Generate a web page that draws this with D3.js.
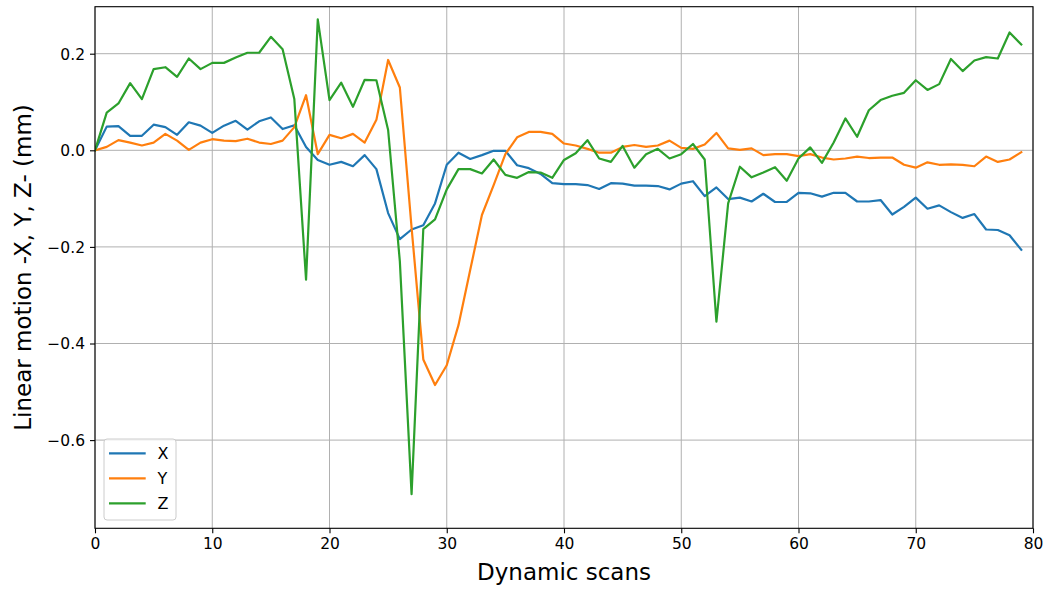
<!DOCTYPE html>
<html>
<head>
<meta charset="utf-8">
<script src="https://cdn.jsdelivr.net/npm/d3@7"></script>
<style>
  html, body { margin: 0; padding: 0; background: #fff; }
  svg { display: block; }
  text { font-family: "DejaVu Sans", sans-serif; fill: #000; }
</style>
</head>
<body>
<svg id="chart" width="1048" height="591"></svg>
<script>
const scans = d3.range(0, 80);

const seriesX = [0, 0.049, 0.050, 0.030, 0.030, 0.053, 0.048, 0.032, 0.058, 0.051,
  0.036, 0.051, 0.061, 0.043, 0.060, 0.068, 0.044, 0.052, 0.007, -0.020,
  -0.030, -0.024, -0.033, -0.010, -0.039, -0.130, -0.184, -0.164, -0.155, -0.110,
  -0.030, -0.005, -0.018, -0.010, -0.001, -0.001, -0.031, -0.037, -0.049, -0.068,
  -0.070, -0.070, -0.072, -0.080, -0.068, -0.069, -0.073, -0.073, -0.074, -0.081,
  -0.069, -0.064, -0.095, -0.077, -0.101, -0.098, -0.106, -0.090, -0.107, -0.107,
  -0.088, -0.089, -0.096, -0.088, -0.088, -0.106, -0.106, -0.103, -0.133, -0.117,
  -0.098, -0.121, -0.114, -0.128, -0.140, -0.132, -0.164, -0.165, -0.176, -0.206];

const seriesY = [0, 0.007, 0.021, 0.016, 0.010, 0.016, 0.034, 0.020, 0.001, 0.016,
  0.023, 0.020, 0.019, 0.024, 0.016, 0.013, 0.020, 0.048, 0.114, -0.008,
  0.032, 0.025, 0.034, 0.016, 0.063, 0.187, 0.130, -0.160, -0.433, -0.486,
  -0.445, -0.362, -0.248, -0.134, -0.072, -0.008, 0.027, 0.038, 0.038, 0.034,
  0.014, 0.010, 0.003, -0.005, -0.005, 0.007, 0.011, 0.007, 0.010, 0.020,
  0.005, 0.003, 0.012, 0.036, 0.004, 0.001, 0.004, -0.010, -0.008, -0.008,
  -0.012, -0.008, -0.015, -0.019, -0.017, -0.013, -0.016, -0.015, -0.015, -0.030,
  -0.036, -0.025, -0.030, -0.029, -0.030, -0.033, -0.013, -0.024, -0.019, -0.004];

const seriesZ = [0, 0.078, 0.097, 0.139, 0.106, 0.168, 0.172, 0.152, 0.190, 0.168,
  0.181, 0.181, 0.192, 0.202, 0.202, 0.235, 0.209, 0.106, -0.268, 0.271,
  0.104, 0.140, 0.090, 0.146, 0.145, 0.042, -0.230, -0.712, -0.163, -0.143,
  -0.081, -0.039, -0.039, -0.048, -0.019, -0.051, -0.057, -0.045, -0.046, -0.057,
  -0.020, -0.006, 0.021, -0.017, -0.024, 0.009, -0.036, -0.008, 0.003, -0.017,
  -0.008, 0.013, -0.019, -0.355, -0.110, -0.034, -0.056, -0.046, -0.035, -0.063,
  -0.017, 0.006, -0.026, 0.016, 0.066, 0.028, 0.083, 0.104, 0.113, 0.119,
  0.145, 0.125, 0.137, 0.189, 0.164, 0.186, 0.193, 0.190, 0.244, 0.219];

const seriesNames = ["X", "Y", "Z"];
const seriesColors = ["#1f77b4", "#ff7f0e", "#2ca02c"];
const xTicks = [0, 10, 20, 30, 40, 50, 60, 70, 80];
const yTicks = [0.2, 0.0, -0.2, -0.4, -0.6];
const xLabel = "Dynamic scans";
const yLabel = "Linear motion -X, Y, Z- (mm)";

(function () {
const pL = 95, pR = 1033, pT = 6.7, pB = 528.3;
const svg = d3.select("#chart");

const x = d3.scaleLinear().domain([0, 80]).range([pL, pR]);
const y = d3.scaleLinear().domain([-0.7826, 0.2973]).range([pB, pT]);

// grid
const grid = svg.append("g");
grid.selectAll("line.gx").data(xTicks).join("line").attr("class", "gx")
  .attr("x1", d => x(d)).attr("x2", d => x(d))
  .attr("y1", pT).attr("y2", pB)
  .attr("stroke", "#b0b0b0").attr("stroke-width", 1);
grid.selectAll("line.gy").data(yTicks).join("line").attr("class", "gy")
  .attr("x1", pL).attr("x2", pR)
  .attr("y1", d => y(d)).attr("y2", d => y(d))
  .attr("stroke", "#b0b0b0").attr("stroke-width", 1);

// lines
const allSeries = [seriesX, seriesY, seriesZ];
svg.append("clipPath").attr("id", "clip").append("rect")
  .attr("x", pL).attr("y", pT).attr("width", pR - pL).attr("height", pB - pT);
const line = d3.line().x((d, i) => x(scans[i])).y(d => y(d));
svg.append("g").attr("clip-path", "url(#clip)")
  .selectAll("path").data(allSeries).join("path")
  .attr("d", d => line(d))
  .attr("fill", "none")
  .attr("stroke", (d, i) => seriesColors[i])
  .attr("stroke-width", 2.2)
  .attr("stroke-linejoin", "round")
  .attr("stroke-linecap", "square");

// axes
const fmtY = d3.format(".1f");
const xAxis = d3.axisBottom(x).tickValues(xTicks).tickSize(5).tickPadding(5).tickFormat(d3.format("d"));
const yAxis = d3.axisLeft(y).tickValues(yTicks).tickSize(5).tickPadding(5).tickFormat(fmtY);

const gx = svg.append("g").attr("transform", `translate(0,${pB})`).call(xAxis);
const gy = svg.append("g").attr("transform", `translate(${pL},0)`).call(yAxis);
[gx, gy].forEach(g => {
  g.select(".domain").remove();
  g.selectAll(".tick line").attr("stroke", "#000").attr("stroke-width", 1.1);
  g.selectAll(".tick text").attr("font-size", "15.5px").attr("font-family", "DejaVu Sans").attr("fill", "#000");
});
gy.selectAll(".tick text").attr("dy", "0.35em");

// frame
svg.append("rect")
  .attr("x", pL).attr("y", pT).attr("width", pR - pL).attr("height", pB - pT)
  .attr("fill", "none").attr("stroke", "#000").attr("stroke-width", 1.1);

// axis labels
svg.append("text")
  .attr("x", (pL + pR) / 2).attr("y", 580)
  .attr("text-anchor", "middle").attr("font-size", "23px")
  .text(xLabel);
svg.append("text")
  .attr("transform", `translate(31,${(pT + pB) / 2}) rotate(-90)`)
  .attr("text-anchor", "middle").attr("font-size", "23px")
  .text(yLabel);

// legend
const lg = svg.append("g");
lg.append("rect")
  .attr("x", 104).attr("y", 439).attr("width", 72).attr("height", 81)
  .attr("rx", 3).attr("ry", 3)
  .attr("fill", "#fff").attr("fill-opacity", 0.8)
  .attr("stroke", "#cccccc").attr("stroke-width", 1);
const items = lg.selectAll("g.item").data(seriesNames).join("g").attr("class", "item")
  .attr("transform", (d, i) => `translate(0,${453.3 + i * 25})`);
items.append("line")
  .attr("x1", 109).attr("x2", 145.7).attr("y1", 0).attr("y2", 0)
  .attr("stroke", (d, i) => seriesColors[i]).attr("stroke-width", 2.2);
items.append("text")
  .attr("x", 157.5).attr("y", 0).attr("dy", "0.36em")
  .attr("font-size", "16px")
  .text(d => d);
})();
</script>
</body>
</html>
